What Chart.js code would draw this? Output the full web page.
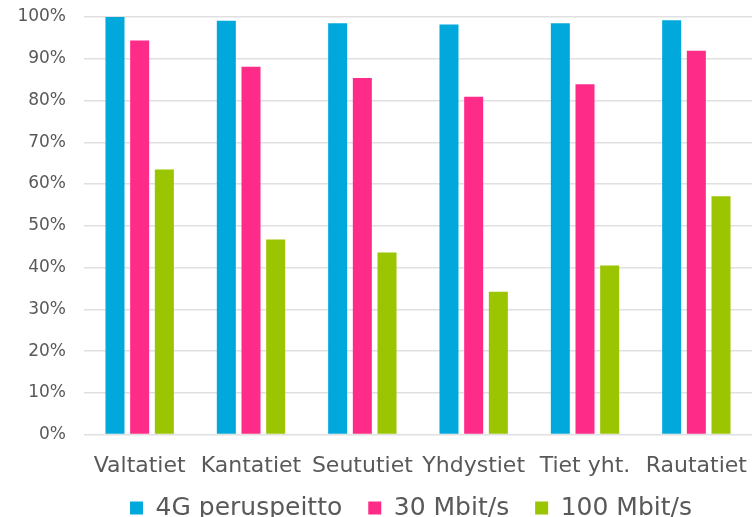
<!DOCTYPE html>
<html>
<head>
<meta charset="utf-8">
<script src="https://cdn.jsdelivr.net/npm/chart.js@4/dist/chart.umd.min.js"></script>
<style>
html,body{margin:0;padding:0;background:#fff;overflow:hidden;}
#wrap{width:752px;height:517px;}
</style>
</head>
<body>
<div id="wrap"><canvas id="c" width="752" height="517"></canvas></div>
<script>
const categories = ["Valtatiet","Kantatiet","Seututiet","Yhdystiet","Tiet yht.","Rautatiet"];
const series4G = [100, 99.1, 98.5, 98.2, 98.5, 99.2];
const series30 = [94.4, 88.1, 85.4, 80.9, 83.9, 91.9];
const series100 = [63.5, 46.7, 43.6, 34.2, 40.5, 57.1];
const seriesNames = ["4G peruspeitto", "30 Mbit/s", "100 Mbit/s"];
const yTicks = [0,10,20,30,40,50,60,70,80,90,100];

const colors = ["#00A8DC", "#FF2B89", "#9BC500"];
const FONT = "DejaVu Sans";

const legendPlace = {
  id: 'legendPlace',
  afterLayout(chart) {
    const lg = chart.legend;
    if (!lg) return;
    const h = lg.height, w = lg.width;
    lg.top = 469.5; lg.bottom = 469.5 + h;
    lg.left = 35; lg.right = 35 + w;
  }
};

new Chart(document.getElementById('c'), {
  type: 'bar',
  data: {
    labels: categories,
    datasets: [series4G, series30, series100].map((d, i) => ({
      label: seriesNames[i],
      data: d,
      backgroundColor: colors[i],
      borderWidth: 0,
      categoryPercentage: 0.665,
      barPercentage: 0.77
    }))
  },
  plugins: [legendPlace],
  options: {
    responsive: false,
    animation: false,
    layout: { padding: { left: 0, right: 0, top: 17, bottom: -33 } },
    plugins: {
      legend: {
        position: 'bottom',
        labels: {
          font: { family: FONT, size: 25 },
          color: '#595959',
          boxWidth: 13,
          boxHeight: 13,
          padding: 26
        }
      },
      tooltip: { enabled: false }
    },
    scales: {
      x: {
        grid: { display: false },
        border: { display: false },
        afterFit: s => { s.paddingLeft = 0; s.paddingRight = 0; },
        ticks: {
          font: { family: FONT, size: 22 },
          color: '#595959',
          padding: 10,
          maxRotation: 0,
          autoSkip: false
        }
      },
      y: {
        min: 0, max: 100,
        afterBuildTicks: s => { s.ticks = yTicks.map(v => ({ value: v })); },
        afterFit: s => { s.width = 84; s.paddingTop = 0; s.paddingBottom = 0; },
        grid: { color: '#E0E0E0', lineWidth: 1.5, drawTicks: false },
        border: { display: false },
        ticks: {
          font: { family: FONT, size: 17 },
          color: '#595959',
          padding: 18,
          callback: v => v + '%'
        }
      }
    }
  }
});
</script>
</body>
</html>
